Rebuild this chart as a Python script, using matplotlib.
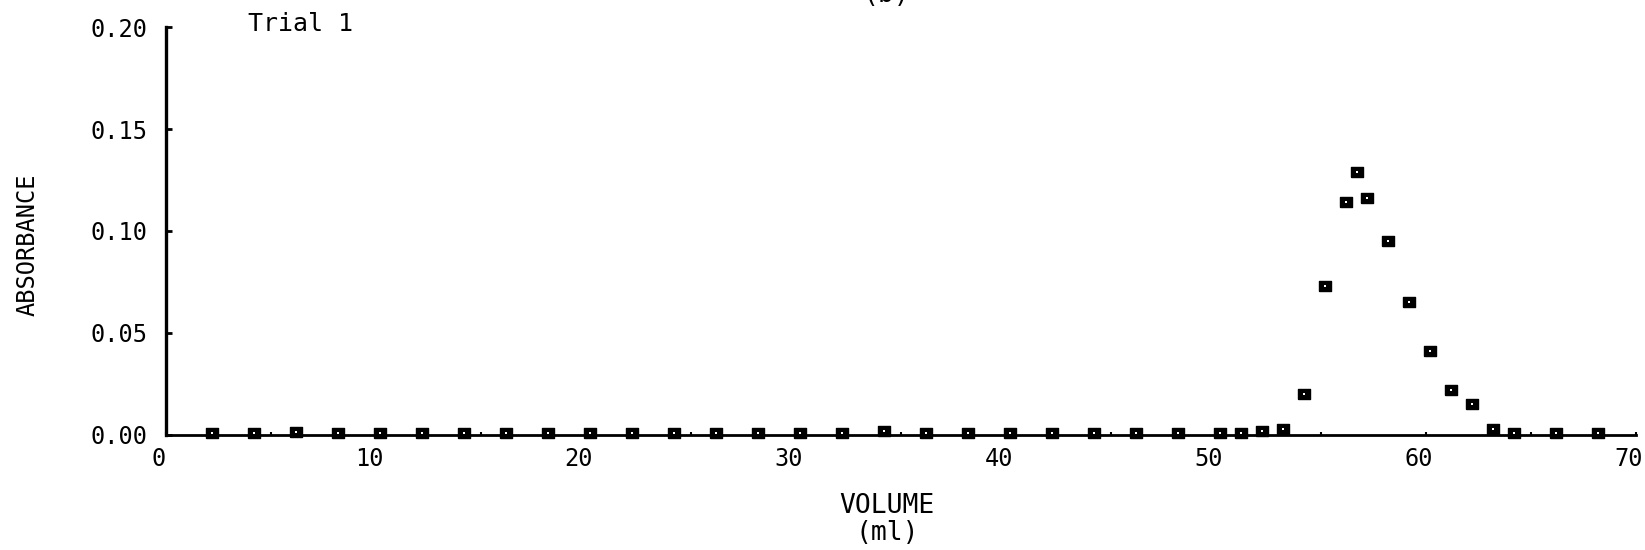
import matplotlib
matplotlib.use('Agg')
import matplotlib.pyplot as plt
import matplotlib.transforms as mtransforms

# ── Data ─────────────────────────────────────────────────────────────────────
volume_ml = [2.2, 4.2, 6.2, 8.2, 10.2, 12.2, 14.2, 16.2, 18.2, 20.2,
             22.2, 24.2, 26.2, 28.2, 30.2, 32.2, 34.2, 36.2, 38.2, 40.2,
             42.2, 44.2, 46.2, 48.2, 50.2, 51.2, 52.2, 53.2, 54.2, 55.2,
             56.2, 56.7, 57.2, 58.2, 59.2, 60.2, 61.2, 62.2, 63.2, 64.2,
             66.2, 68.2]
absorbance = [0.001, 0.001, 0.0015, 0.001, 0.001, 0.001, 0.001, 0.001, 0.001, 0.001,
              0.001, 0.001, 0.001, 0.001, 0.001, 0.001, 0.002, 0.001, 0.001, 0.001,
              0.001, 0.001, 0.001, 0.001, 0.001, 0.001, 0.002, 0.003, 0.020, 0.073,
              0.114, 0.129, 0.116, 0.095, 0.065, 0.041, 0.022, 0.015, 0.003, 0.001,
              0.001, 0.001]

x_ticks = [0, 10, 20, 30, 40, 50, 60, 70]
x_minor = [5, 15, 25, 35, 45, 55, 65]
y_ticks = [0.00, 0.05, 0.10, 0.15, 0.20]
y_tick_labels = ["0.00", "0.05", "0.10", "0.15", "0.20"]
# ─────────────────────────────────────────────────────────────────────────────

plt.rcParams['font.family'] = ['DejaVu Sans Mono', 'DejaVu Sans']

fig = plt.figure(figsize=(16.45, 5.5), dpi=100)
ax = fig.add_axes([0.1009, 0.2091, 0.8936, 0.7418])

# plotter symbol: solid little box with a pin-hole in the middle
box = [(-1.3, -1), (1.3, -1), (1.3, 1), (-1.3, 1), (-1.3, -1)]
ax.plot(volume_ml, absorbance, linestyle='none', marker=box, markersize=9,
        markerfacecolor='black', markeredgecolor='black', markeredgewidth=1.0,
        clip_on=False, zorder=3)
ax.plot(volume_ml, absorbance, linestyle='none', marker='s', markersize=2,
        markerfacecolor='white', markeredgewidth=0, clip_on=False, zorder=4)

ax.set_xlim(0, 70)
ax.set_ylim(0, 0.20)

for side in ('top', 'right'):
    ax.spines[side].set_visible(False)
ax.spines['left'].set_linewidth(2.4)
ax.spines['bottom'].set_linewidth(2.0)

ax.set_xticks(x_ticks)
ax.set_xticks(x_minor, minor=True)
ax.set_xticklabels([str(v) for v in x_ticks])
ax.set_yticks(y_ticks)
ax.set_yticklabels(y_tick_labels)

ax.tick_params(axis='x', which='both', direction='in', length=2.5, width=1.5,
               pad=9, labelsize=17)
ax.tick_params(axis='y', direction='in', length=4, width=2, pad=13, labelsize=17)

# plotter put the x labels a little left of their ticks
shift = mtransforms.ScaledTranslation(-7 / 100, 0, fig.dpi_scale_trans)
for lab in ax.get_xticklabels():
    lab.set_transform(lab.get_transform() + shift)

fig.text(887 / 1645, 1 - 493 / 550, "VOLUME", ha='center', va='top', fontsize=19)
fig.text(887 / 1645, 1 - 520 / 550, "(ml)", ha='center', va='top', fontsize=19)
fig.text(28 / 1645, 1 - 245 / 550, "ABSORBANCE", rotation=90,
         ha='center', va='center', fontsize=17)
fig.text(301 / 1645, 1 - 24 / 550, "Trial 1", ha='center', va='center', fontsize=18)
# panel letter, cut off by the top edge as in the scan
fig.text(886 / 1645, 1 - 2 / 550, "(b)", ha='center', va='baseline', fontsize=19)

fig.savefig("out.png", dpi=100)
plt.close("all")
